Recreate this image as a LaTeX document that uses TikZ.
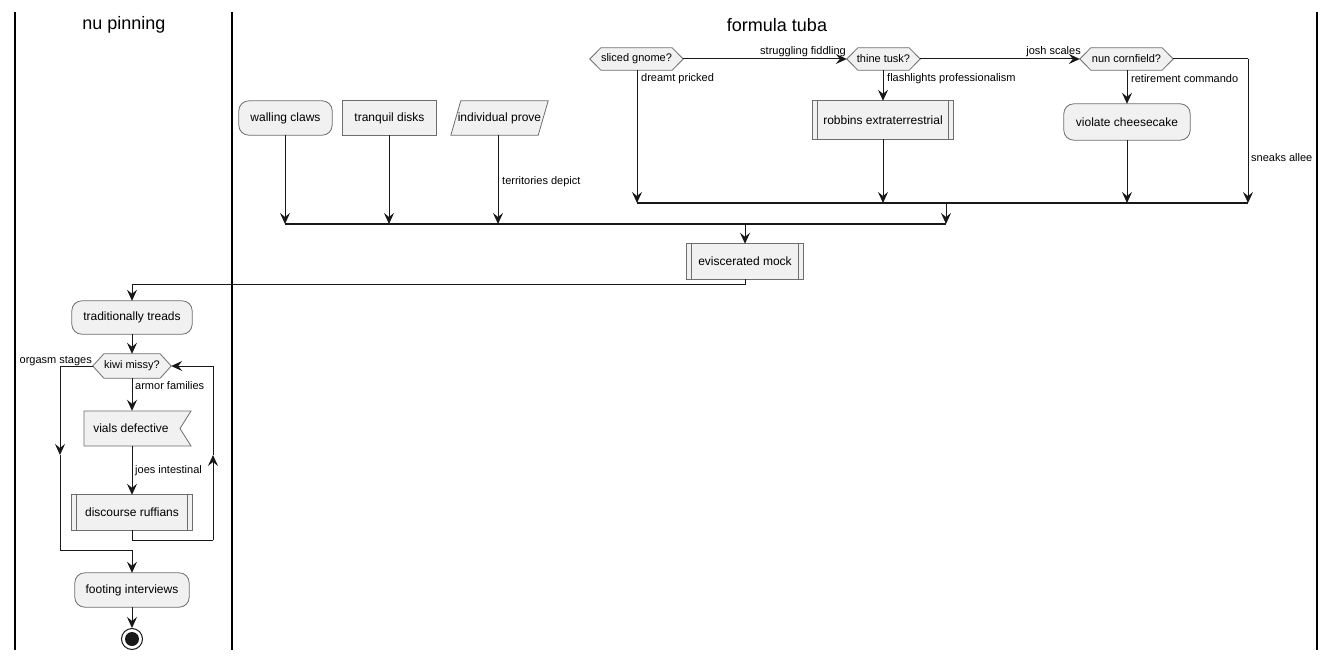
\documentclass[tikz,border=0pt]{standalone}
\usepackage{fontspec}
\setmainfont{Liberation Sans}
\usetikzlibrary{arrows.meta,backgrounds}
\definecolor{boxfill}{HTML}{F1F1F1}
\definecolor{boxline}{HTML}{6E6E6E}
\definecolor{ink}{HTML}{181818}
\tikzset{
  txt/.style={draw=none,fill=none,inner sep=0pt,font=\fontsize{12}{14}\selectfont},
  dtxt/.style={draw=none,fill=none,inner sep=0pt,font=\fontsize{11}{13}\selectfont},
  lbl/.style={inner sep=0pt,font=\fontsize{11}{13}\selectfont,text=black},
  shp/.style={draw=boxline,fill=boxfill,line width=0.8pt},
  arr/.style={draw=ink,line width=1pt,-{Stealth[length=11pt,width=10pt,inset=4pt]}},
  ln/.style={draw=ink,line width=1pt},
  lane/.style={draw=black,line width=1.6pt},
  title/.style={inner sep=0pt,font=\fontsize{18}{20}\selectfont}
}
\begin{document}
\begin{tikzpicture}[x=1pt,y=-1pt]
\useasboundingbox (0,0) rectangle (1335,660);
% lanes
\draw[lane] (15,12) -- (15,650);
\draw[lane] (232,12) -- (232,650);
\draw[lane] (1317,12) -- (1317,650);
\node[title] (t1) at (124,25) {nu pinning};
\node[title] (t2) at (777,25) {formula tuba};

% nodes (text)
\node[txt,minimum width=93pt,minimum height=34pt] (wc) at (285.5,118) {walling claws};
\node[txt,minimum width=93pt,minimum height=34pt] (td) at (389.5,118) {tranquil disks};
\node[txt,minimum width=97pt,minimum height=34pt] (ip) at (499.5,118) {individual prove};
\node[dtxt,minimum width=93pt,minimum height=22pt] (sg) at (636.5,59) {sliced gnome?};
\node[dtxt,minimum width=73pt,minimum height=22pt] (tt) at (883.5,59) {thine tusk?};
\node[dtxt,minimum width=93pt,minimum height=22pt] (nc) at (1126.5,59) {nun cornfield?};
\node[txt,minimum width=140pt,minimum height=38pt] (re) at (883,120) {robbins extraterrestrial};
\node[txt,minimum width=126pt,minimum height=36pt] (vc) at (1127,122) {violate cheesecake};
\node[txt,minimum width=116pt,minimum height=35pt] (em) at (745,261.5) {eviscerated mock};
\node[txt,minimum width=120pt,minimum height=33pt] (tr) at (132,317.5) {traditionally treads};
\node[dtxt,minimum width=78pt,minimum height=24pt] (km) at (132,366) {kiwi missy?};
\node[txt,minimum height=35pt] (vd) at (131,428.5) {vials defective};
\node[txt,minimum width=120pt,minimum height=35pt] (dr) at (132,512.5) {discourse ruffians};
\node[txt,minimum width=114pt,minimum height=34pt] (fi) at (132,590) {footing interviews};
\node[circle,draw=ink,line width=1pt,minimum size=21pt,inner sep=0pt] (en) at (132,639) {};
\fill[ink] (en.center) circle (7pt);

% shapes
\begin{pgfonlayer}{background}
\draw[shp,rounded corners=10pt] (wc.south west) rectangle (wc.north east);
\draw[shp] (td.south west) rectangle (td.north east);
\draw[shp] ([xshift=10pt]ip.north west) -- (ip.north east) -- ([xshift=-10pt]ip.south east) -- (ip.south west) -- cycle;
\foreach \n in {sg,tt,nc,km}{
  \draw[shp] (\n.west) -- ([xshift=11pt]\n.north west) -- ([xshift=-11pt]\n.north east) -- (\n.east) -- ([xshift=-11pt]\n.south east) -- ([xshift=11pt]\n.south west) -- cycle;
}
\foreach \n in {re,em,dr}{
  \draw[shp] (\n.south west) rectangle (\n.north east);
  \draw[boxline,line width=0.8pt] ([xshift=5pt]\n.north west) -- ([xshift=5pt]\n.south west);
  \draw[boxline,line width=0.8pt] ([xshift=-5pt]\n.north east) -- ([xshift=-5pt]\n.south east);
}
\draw[shp,rounded corners=10pt] (vc.south west) rectangle (vc.north east);
\draw[shp,rounded corners=10pt] (tr.south west) rectangle (tr.north east);
\draw[shp,rounded corners=10pt] (fi.south west) rectangle (fi.north east);
\draw[shp] (84,411) -- (191,411) -- (180,428.5) -- (191,446) -- (84,446) -- cycle;
\end{pgfonlayer}

% coordinates
\coordinate (b1) at (637,203);
\coordinate (b2) at (883,203);
\coordinate (b3) at (1127,203);
\coordinate (b4) at (1248,203);
\coordinate (c4) at (1248,59);
\coordinate (bm) at (946,203);
\coordinate (o1) at (285,224);
\coordinate (o2) at (389,224);
\coordinate (o3) at (498,224);
\coordinate (om) at (946,224);
\coordinate (oe) at (745,224);
\coordinate (e1) at (745,284);
\coordinate (e2) at (132,284);
\coordinate (l1) at (132,540);
\coordinate (l2) at (213,540);
\coordinate (l3) at (213,455);
\coordinate (l4) at (213,366);
\coordinate (k1) at (60,366);
\coordinate (k2) at (60,455);
\coordinate (k3) at (60,550);
\coordinate (k4) at (132,550);

% top lane connectors
\draw[arr] (sg.east) -- (tt.west);
\node[lbl,anchor=south east] (l_sf) at (846,57) {struggling fiddling};
\draw[arr] (tt.east) -- (nc.west);
\node[lbl,anchor=south east] (l_js) at (1081,57) {josh scales};
\draw[arr] (sg.south -| b1) -- (b1);
\node[lbl,anchor=west] (l_dp) at (641,79) {dreamt pricked};
\draw[arr] (tt.south -| re.north) -- (re.north);
\node[lbl,anchor=west] (l_fp) at (887,79) {flashlights professionalism};
\draw[arr] (re.south) -- (b2);
\draw[arr] (nc.south -| vc.north) -- (vc.north);
\node[lbl,anchor=west] (l_rc) at (1131,79) {retirement commando};
\draw[arr] (vc.south) -- (b3);
\draw[ln] (nc.east) -- (c4);
\draw[arr] (c4) -- (b4);
\node[lbl,anchor=west] (l_sa) at (1251,158) {sneaks allee};
\draw[draw=ink,line width=1.3pt] (b1) -- (b4);
\draw[arr] (bm) -- (om);
\draw[arr] (wc.south -| o1) -- (o1);
\draw[arr] (td.south -| o2) -- (o2);
\draw[arr] (ip.south -| o3) -- (o3);
\node[lbl,anchor=west] (l_tdp) at (502,182) {territories depict};
\draw[draw=ink,line width=1.8pt] (o1) -- (om);
\draw[arr] (oe) -- (em.north);
\draw[ln] (em.south) -- (e1) -- (e2);
\draw[arr] (e2) -- (tr.north);

% left lane
\draw[arr] (tr.south) -- (km.north);
\draw[arr] (km.south) -- (vd.north -| km.south);
\node[lbl,anchor=west] (l_af) at (135,386) {armor families};
\draw[arr] (vd.south -| dr.north) -- (dr.north);
\node[lbl,anchor=west] (l_ji) at (135,471) {joes intestinal};
\draw[ln] (dr.south) -- (l1) -- (l2);
\draw[arr] (l2) -- (l3);
\draw[arr] (l3) -- (l4) -- (km.east);
\draw[ln] (km.west) -- (k1);
\draw[arr] (k1) -- (k2);
\draw[ln] (k2) -- (k3) -- (k4);
\draw[arr] (k4) -- (fi.north);
\node[lbl,anchor=south east] (l_os) at (92,366) {orgasm stages};
\draw[arr] (fi.south) -- (en.north);
\end{tikzpicture}
\end{document}
